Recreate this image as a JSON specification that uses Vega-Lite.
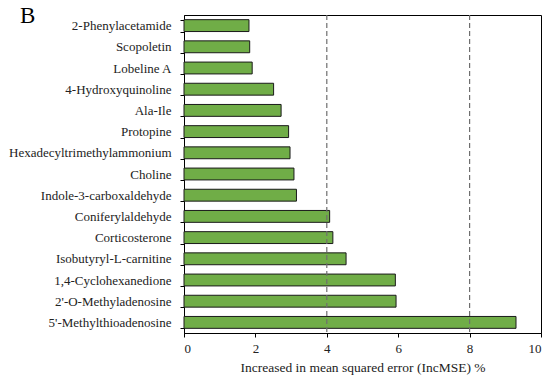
{
  "$schema": "https://vega.github.io/schema/vega-lite/v6.json",
  "autosize": "none",
  "width": 357,
  "height": 318,
  "padding": {"left": 184, "top": 15, "right": 15, "bottom": 50},
  "background": "white",
  "title": {
    "text": "B",
    "anchor": "start",
    "frame": "group",
    "font": "Liberation Serif",
    "fontSize": 23,
    "fontWeight": "normal",
    "color": "black",
    "dx": -164,
    "offset": -19,
    "baseline": "top"
  },
  "config": {
    "view": {"stroke": "black", "strokeWidth": 1},
    "axis": {
      "domainColor": "black",
      "tickColor": "black",
      "grid": false
    }
  },
  "data": {
    "values": [
      {"metabolite": "2-Phenylacetamide", "incmse": 1.82},
      {"metabolite": "Scopoletin", "incmse": 1.84},
      {"metabolite": "Lobeline A", "incmse": 1.91},
      {"metabolite": "4-Hydroxyquinoline", "incmse": 2.51},
      {"metabolite": "Ala-Ile", "incmse": 2.72},
      {"metabolite": "Protopine", "incmse": 2.93},
      {"metabolite": "Hexadecyltrimethylammonium", "incmse": 2.97},
      {"metabolite": "Choline", "incmse": 3.08},
      {"metabolite": "Indole-3-carboxaldehyde", "incmse": 3.15},
      {"metabolite": "Coniferylaldehyde", "incmse": 4.08},
      {"metabolite": "Corticosterone", "incmse": 4.17},
      {"metabolite": "Isobutyryl-L-carnitine", "incmse": 4.54},
      {"metabolite": "1,4-Cyclohexanedione", "incmse": 5.92},
      {"metabolite": "2'-O-Methyladenosine", "incmse": 5.94},
      {"metabolite": "5'-Methylthioadenosine", "incmse": 9.3}
    ]
  },
  "layer": [
    {
      "mark": {"type": "bar", "fill": "#70AD47", "stroke": "#1a1a1a", "strokeWidth": 1},
      "encoding": {
        "y": {
          "field": "metabolite",
          "type": "nominal",
          "sort": null,
          "scale": {"paddingInner": 0.44, "paddingOuter": 0.22},
          "axis": {
            "title": null,
            "labelFont": "Liberation Serif",
            "labelColor": "#222",
            "labelFontSize": 13,
            "labelPadding": 9,
            "tickBand": "extent",
            "tickSize": 4,
            "labelLimit": 200
          }
        },
        "x": {
          "field": "incmse",
          "type": "quantitative",
          "scale": {"domain": [0, 10], "nice": false},
          "axis": {
            "title": "Increased in mean squared error (IncMSE) %",
            "values": [0, 2, 4, 6, 8, 10],
            "labelFont": "Liberation Serif",
            "titleFont": "Liberation Serif",
            "labelColor": "#222",
            "titleColor": "#222",
            "labelFontSize": 13,
            "titleFontSize": 13.5,
            "titleFontWeight": "normal",
            "tickSize": 4,
            "labelPadding": 5,
            "titlePadding": 5
          }
        }
      }
    },
    {
      "data": {"values": [{"threshold": 4}, {"threshold": 8}]},
      "mark": {"type": "rule", "color": "#6e6e6e", "strokeDash": [5, 3], "strokeWidth": 1.2},
      "encoding": {
        "x": {"field": "threshold", "type": "quantitative"}
      }
    }
  ]
}
